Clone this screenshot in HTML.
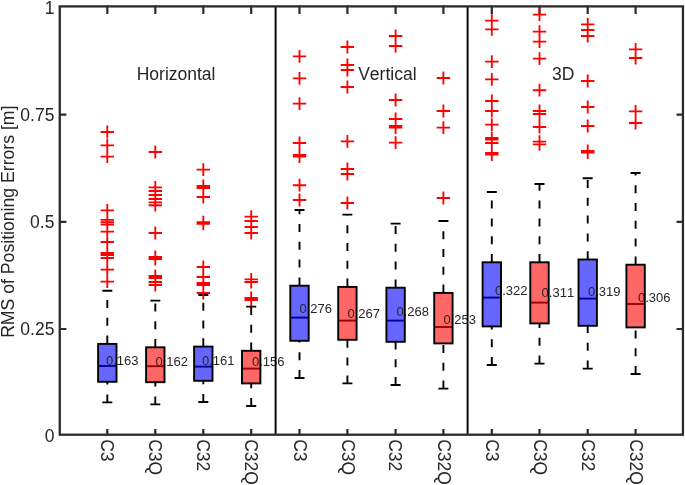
<!DOCTYPE html>
<html><head><meta charset="utf-8"><title>Boxplot</title>
<style>html,body{margin:0;padding:0;background:#fff}svg{display:block;will-change:transform}text{font-family:"Liberation Sans",sans-serif;fill:#262626;font-kerning:none}</style>
</head><body>
<svg width="685" height="485" viewBox="0 0 685 485">
<rect width="685" height="485" fill="#fff"/>
<g stroke="#000" stroke-width="1.90" fill="none">
<path stroke-dasharray="8 9.8" d="M107.3 343.6V290.8"/>
<path stroke-dasharray="8 9.8" d="M107.3 402.4V382.0"/>
<path d="M102.3 290.8h10M102.3 402.4h10"/>
<path stroke-dasharray="8 9.8" d="M155.3 347.0V300.6"/>
<path stroke-dasharray="8 9.8" d="M155.3 404.4V382.4"/>
<path d="M150.3 300.6h10M150.3 404.4h10"/>
<path stroke-dasharray="8 9.8" d="M203.3 346.3V295.0"/>
<path stroke-dasharray="8 9.8" d="M203.3 402.0V381.0"/>
<path d="M198.3 295.0h10M198.3 402.0h10"/>
<path stroke-dasharray="8 9.8" d="M251.2 350.5V306.6"/>
<path stroke-dasharray="8 9.8" d="M251.2 406.0V383.6"/>
<path d="M246.2 306.6h10M246.2 406.0h10"/>
<path stroke-dasharray="8 9.8" d="M299.5 285.4V210.0"/>
<path stroke-dasharray="8 9.8" d="M299.5 378.0V341.0"/>
<path d="M294.5 210.0h10M294.5 378.0h10"/>
<path stroke-dasharray="8 9.8" d="M347.4 286.6V214.6"/>
<path stroke-dasharray="8 9.8" d="M347.4 383.4V340.0"/>
<path d="M342.4 214.6h10M342.4 383.4h10"/>
<path stroke-dasharray="8 9.8" d="M395.6 287.4V223.6"/>
<path stroke-dasharray="8 9.8" d="M395.6 385.0V342.0"/>
<path d="M390.6 223.6h10M390.6 385.0h10"/>
<path stroke-dasharray="8 9.8" d="M443.4 292.6V221.0"/>
<path stroke-dasharray="8 9.8" d="M443.4 388.6V343.6"/>
<path d="M438.4 221.0h10M438.4 388.6h10"/>
<path stroke-dasharray="8 9.8" d="M491.8 262.0V192.0"/>
<path stroke-dasharray="8 9.8" d="M491.8 365.0V326.6"/>
<path d="M486.8 192.0h10M486.8 365.0h10"/>
<path stroke-dasharray="8 9.8" d="M539.5 262.0V184.0"/>
<path stroke-dasharray="8 9.8" d="M539.5 363.6V323.6"/>
<path d="M534.5 184.0h10M534.5 363.6h10"/>
<path stroke-dasharray="8 9.8" d="M587.7 259.2V178.3"/>
<path stroke-dasharray="8 9.8" d="M587.7 368.6V326.0"/>
<path d="M582.7 178.3h10M582.7 368.6h10"/>
<path stroke-dasharray="8 9.8" d="M635.6 264.4V173.0"/>
<path stroke-dasharray="8 9.8" d="M635.6 374.0V327.6"/>
<path d="M630.6 173.0h10M630.6 374.0h10"/>
</g>
<path d="M107.3 435.5V428.9M107.3 5.6V13.9M155.3 435.5V428.9M155.3 5.6V13.9M203.3 435.5V428.9M203.3 5.6V13.9M251.2 435.5V428.9M251.2 5.6V13.9M299.5 435.5V428.9M299.5 5.6V13.9M347.4 435.5V428.9M347.4 5.6V13.9M395.6 435.5V428.9M395.6 5.6V13.9M443.4 435.5V428.9M443.4 5.6V13.9M491.8 435.5V428.9M491.8 5.6V13.9M539.5 435.5V428.9M539.5 5.6V13.9M587.7 435.5V428.9M587.7 5.6V13.9M635.6 435.5V428.9M635.6 5.6V13.9M59.8 114.70h6.6M683.0 114.70h-6.5M59.8 221.85h6.6M683.0 221.85h-6.5M59.8 329.00h6.6M683.0 329.00h-6.5" stroke="#2b2b2b" stroke-width="2.2" fill="none"/>
<g stroke="#ff0000" stroke-width="1.85" fill="none">
<path d="M100.6 132.0h13.4M107.3 125.6v12.8M100.6 145.4h13.4M107.3 139.0v12.8M100.6 156.6h13.4M107.3 150.2v12.8M100.6 210.4h13.4M107.3 204.0v12.8M100.6 219.8h13.4M107.3 213.4v12.8M100.6 222.2h13.4M107.3 215.8v12.8M100.6 224.6h13.4M107.3 218.2v12.8M100.6 231.6h13.4M107.3 225.2v12.8M100.6 242.0h13.4M107.3 235.6v12.8M100.6 253.0h13.4M107.3 246.6v12.8M100.6 255.0h13.4M107.3 248.6v12.8M100.6 258.0h13.4M107.3 251.6v12.8M100.6 269.6h13.4M107.3 263.2v12.8M100.6 281.6h13.4M107.3 275.2v12.8"/>
<path d="M148.6 152.0h13.4M155.3 145.6v12.8M148.6 187.4h13.4M155.3 181.0v12.8M148.6 191.0h13.4M155.3 184.6v12.8M148.6 195.0h13.4M155.3 188.6v12.8M148.6 199.0h13.4M155.3 192.6v12.8M148.6 202.4h13.4M155.3 196.0v12.8M148.6 205.2h13.4M155.3 198.8v12.8M148.6 233.0h13.4M155.3 226.6v12.8M148.6 257.0h13.4M155.3 250.6v12.8M148.6 259.0h13.4M155.3 252.6v12.8M148.6 276.0h13.4M155.3 269.6v12.8M148.6 278.0h13.4M155.3 271.6v12.8M148.6 282.0h13.4M155.3 275.6v12.8M148.6 285.0h13.4M155.3 278.6v12.8"/>
<path d="M196.6 169.6h13.4M203.3 163.2v12.8M196.6 186.0h13.4M203.3 179.6v12.8M196.6 188.0h13.4M203.3 181.6v12.8M196.6 197.0h13.4M203.3 190.6v12.8M196.6 222.2h13.4M203.3 215.8v12.8M196.6 223.8h13.4M203.3 217.4v12.8M196.6 267.0h13.4M203.3 260.6v12.8M196.6 277.0h13.4M203.3 270.6v12.8M196.6 283.0h13.4M203.3 276.6v12.8M196.6 285.0h13.4M203.3 278.6v12.8M196.6 293.0h13.4M203.3 286.6v12.8"/>
<path d="M244.5 216.6h13.4M251.2 210.2v12.8M244.5 221.0h13.4M251.2 214.6v12.8M244.5 227.0h13.4M251.2 220.6v12.8M244.5 233.0h13.4M251.2 226.6v12.8M244.5 279.4h13.4M251.2 273.0v12.8M244.5 282.0h13.4M251.2 275.6v12.8M244.5 298.0h13.4M251.2 291.6v12.8M244.5 300.0h13.4M251.2 293.6v12.8"/>
<path d="M292.8 56.4h13.4M299.5 50.0v12.8M292.8 78.4h13.4M299.5 72.0v12.8M292.8 103.6h13.4M299.5 97.2v12.8M292.8 143.0h13.4M299.5 136.6v12.8M292.8 155.0h13.4M299.5 148.6v12.8M292.8 156.5h13.4M299.5 150.1v12.8M292.8 185.2h13.4M299.5 178.8v12.8M292.8 200.0h13.4M299.5 193.6v12.8"/>
<path d="M340.7 47.0h13.4M347.4 40.6v12.8M340.7 65.0h13.4M347.4 58.6v12.8M340.7 70.0h13.4M347.4 63.6v12.8M340.7 87.0h13.4M347.4 80.6v12.8M340.7 141.4h13.4M347.4 135.0v12.8M340.7 169.0h13.4M347.4 162.6v12.8M340.7 174.0h13.4M347.4 167.6v12.8M340.7 203.0h13.4M347.4 196.6v12.8"/>
<path d="M388.9 36.0h13.4M395.6 29.6v12.8M388.9 46.0h13.4M395.6 39.6v12.8M388.9 100.0h13.4M395.6 93.6v12.8M388.9 119.0h13.4M395.6 112.6v12.8M388.9 126.0h13.4M395.6 119.6v12.8M388.9 127.5h13.4M395.6 121.1v12.8M388.9 142.6h13.4M395.6 136.2v12.8"/>
<path d="M436.7 78.0h13.4M443.4 71.6v12.8M436.7 111.0h13.4M443.4 104.6v12.8M436.7 127.6h13.4M443.4 121.2v12.8M436.7 198.0h13.4M443.4 191.6v12.8"/>
<path d="M485.1 20.6h13.4M491.8 14.2v12.8M485.1 29.4h13.4M491.8 23.0v12.8M485.1 61.6h13.4M491.8 55.2v12.8M485.1 79.4h13.4M491.8 73.0v12.8M485.1 101.0h13.4M491.8 94.6v12.8M485.1 111.0h13.4M491.8 104.6v12.8M485.1 124.6h13.4M491.8 118.2v12.8M485.1 138.0h13.4M491.8 131.6v12.8M485.1 139.5h13.4M491.8 133.1v12.8M485.1 143.0h13.4M491.8 136.6v12.8M485.1 153.0h13.4M491.8 146.6v12.8M485.1 154.5h13.4M491.8 148.1v12.8"/>
<path d="M532.8 14.6h13.4M539.5 8.2v12.8M532.8 31.6h13.4M539.5 25.2v12.8M532.8 41.6h13.4M539.5 35.2v12.8M532.8 58.6h13.4M539.5 52.2v12.8M532.8 90.2h13.4M539.5 83.8v12.8M532.8 111.0h13.4M539.5 104.6v12.8M532.8 114.0h13.4M539.5 107.6v12.8M532.8 127.0h13.4M539.5 120.6v12.8M532.8 141.6h13.4M539.5 135.2v12.8M532.8 144.4h13.4M539.5 138.0v12.8"/>
<path d="M581.0 24.4h13.4M587.7 18.0v12.8M581.0 30.0h13.4M587.7 23.6v12.8M581.0 36.0h13.4M587.7 29.6v12.8M581.0 81.0h13.4M587.7 74.6v12.8M581.0 107.0h13.4M587.7 100.6v12.8M581.0 126.0h13.4M587.7 119.6v12.8M581.0 151.0h13.4M587.7 144.6v12.8M581.0 152.5h13.4M587.7 146.1v12.8"/>
<path d="M628.9 49.4h13.4M635.6 43.0v12.8M628.9 58.0h13.4M635.6 51.6v12.8M628.9 111.4h13.4M635.6 105.0v12.8M628.9 123.0h13.4M635.6 116.6v12.8"/>
</g>
<rect x="98.1" y="343.9" width="18.4" height="37.9" fill="#6666ff"/>
<path d="M98.1 366.0h18.4" stroke="#000099" stroke-width="1.9"/>
<text x="106.0" y="365.0" font-size="13">0.163</text>
<rect x="98.1" y="343.9" width="18.4" height="37.9" fill="none" stroke="#000" stroke-width="1.90"/>
<rect x="146.1" y="347.3" width="18.4" height="34.9" fill="#ff6666"/>
<path d="M146.1 366.2h18.4" stroke="#990000" stroke-width="1.9"/>
<text x="155.4" y="366.0" font-size="13">0.162</text>
<rect x="146.1" y="347.3" width="18.4" height="34.9" fill="none" stroke="#000" stroke-width="1.90"/>
<rect x="194.1" y="346.6" width="18.4" height="34.2" fill="#6666ff"/>
<path d="M194.1 366.6h18.4" stroke="#000099" stroke-width="1.9"/>
<text x="202.0" y="365.0" font-size="13">0.161</text>
<rect x="194.1" y="346.6" width="18.4" height="34.2" fill="none" stroke="#000" stroke-width="1.90"/>
<rect x="242.0" y="350.8" width="18.4" height="32.6" fill="#ff6666"/>
<path d="M242.0 368.6h18.4" stroke="#990000" stroke-width="1.9"/>
<text x="252.0" y="366.0" font-size="13">0.156</text>
<rect x="242.0" y="350.8" width="18.4" height="32.6" fill="none" stroke="#000" stroke-width="1.90"/>
<rect x="290.3" y="285.7" width="18.4" height="55.1" fill="#6666ff"/>
<path d="M290.3 317.6h18.4" stroke="#000099" stroke-width="1.9"/>
<text x="299.4" y="313.0" font-size="13">0.276</text>
<rect x="290.3" y="285.7" width="18.4" height="55.1" fill="none" stroke="#000" stroke-width="1.90"/>
<rect x="338.2" y="286.9" width="18.4" height="52.9" fill="#ff6666"/>
<path d="M338.2 320.6h18.4" stroke="#990000" stroke-width="1.9"/>
<text x="347.4" y="318.0" font-size="13">0.267</text>
<rect x="338.2" y="286.9" width="18.4" height="52.9" fill="none" stroke="#000" stroke-width="1.90"/>
<rect x="386.4" y="287.7" width="18.4" height="54.1" fill="#6666ff"/>
<path d="M386.4 320.6h18.4" stroke="#000099" stroke-width="1.9"/>
<text x="396.4" y="316.0" font-size="13">0.268</text>
<rect x="386.4" y="287.7" width="18.4" height="54.1" fill="none" stroke="#000" stroke-width="1.90"/>
<rect x="434.2" y="292.9" width="18.4" height="50.5" fill="#ff6666"/>
<path d="M434.2 327.0h18.4" stroke="#990000" stroke-width="1.9"/>
<text x="443.4" y="324.0" font-size="13">0.253</text>
<rect x="434.2" y="292.9" width="18.4" height="50.5" fill="none" stroke="#000" stroke-width="1.90"/>
<rect x="482.6" y="262.3" width="18.4" height="64.1" fill="#6666ff"/>
<path d="M482.6 297.6h18.4" stroke="#000099" stroke-width="1.9"/>
<text x="495.0" y="295.0" font-size="13">0.322</text>
<rect x="482.6" y="262.3" width="18.4" height="64.1" fill="none" stroke="#000" stroke-width="1.90"/>
<rect x="530.3" y="262.3" width="18.4" height="61.1" fill="#ff6666"/>
<path d="M530.3 302.6h18.4" stroke="#990000" stroke-width="1.9"/>
<text x="541.6" y="297.4" font-size="13">0.311</text>
<rect x="530.3" y="262.3" width="18.4" height="61.1" fill="none" stroke="#000" stroke-width="1.90"/>
<rect x="578.5" y="259.5" width="18.4" height="66.3" fill="#6666ff"/>
<path d="M578.5 298.6h18.4" stroke="#000099" stroke-width="1.9"/>
<text x="588.0" y="296.0" font-size="13">0.319</text>
<rect x="578.5" y="259.5" width="18.4" height="66.3" fill="none" stroke="#000" stroke-width="1.90"/>
<rect x="626.4" y="264.7" width="18.4" height="62.7" fill="#ff6666"/>
<path d="M626.4 304.0h18.4" stroke="#990000" stroke-width="1.9"/>
<text x="638.0" y="301.6" font-size="13">0.306</text>
<rect x="626.4" y="264.7" width="18.4" height="62.7" fill="none" stroke="#000" stroke-width="1.90"/>
<path d="M275.6 6.4V434.7M467.6 6.4V434.7" stroke="#000" stroke-width="1.9"/>
<rect x="59.75" y="6.40" width="623.20" height="428.30" fill="none" stroke="#2b2b2b" stroke-width="2.3"/>
<text x="54.4" y="13.6" font-size="17.5" text-anchor="end">1</text>
<text x="54.4" y="120.8" font-size="17.5" text-anchor="end">0.75</text>
<text x="54.4" y="228.0" font-size="17.5" text-anchor="end">0.5</text>
<text x="54.4" y="335.1" font-size="17.5" text-anchor="end">0.25</text>
<text x="54.4" y="442.3" font-size="17.5" text-anchor="end">0</text>
<text transform="translate(100.7 439.2) rotate(90)" font-size="17.5">C3</text>
<text transform="translate(148.9 439.2) rotate(90)" font-size="17.5">C3Q</text>
<text transform="translate(196.9 439.2) rotate(90)" font-size="17.5">C32</text>
<text transform="translate(245.4 439.2) rotate(90)" font-size="17.5">C32Q</text>
<text transform="translate(293.5 439.2) rotate(90)" font-size="17.5">C3</text>
<text transform="translate(341.6 439.2) rotate(90)" font-size="17.5">C3Q</text>
<text transform="translate(389.2 439.2) rotate(90)" font-size="17.5">C32</text>
<text transform="translate(437.6 439.2) rotate(90)" font-size="17.5">C32Q</text>
<text transform="translate(486.4 439.2) rotate(90)" font-size="17.5">C3</text>
<text transform="translate(534.4 439.2) rotate(90)" font-size="17.5">C3Q</text>
<text transform="translate(582.2 439.2) rotate(90)" font-size="17.5">C32</text>
<text transform="translate(630.4 439.2) rotate(90)" font-size="17.5">C32Q</text>
<text transform="translate(13.6 221.7) rotate(-90)" font-size="17.65" text-anchor="middle">RMS of Positioning Errors [m]</text>
<text x="136.7" y="80" font-size="17.5">Horizontal</text>
<text x="358.2" y="79.6" font-size="17.5">Vertical</text>
<text x="552" y="80.4" font-size="17.5">3D</text>
</svg></body></html>
